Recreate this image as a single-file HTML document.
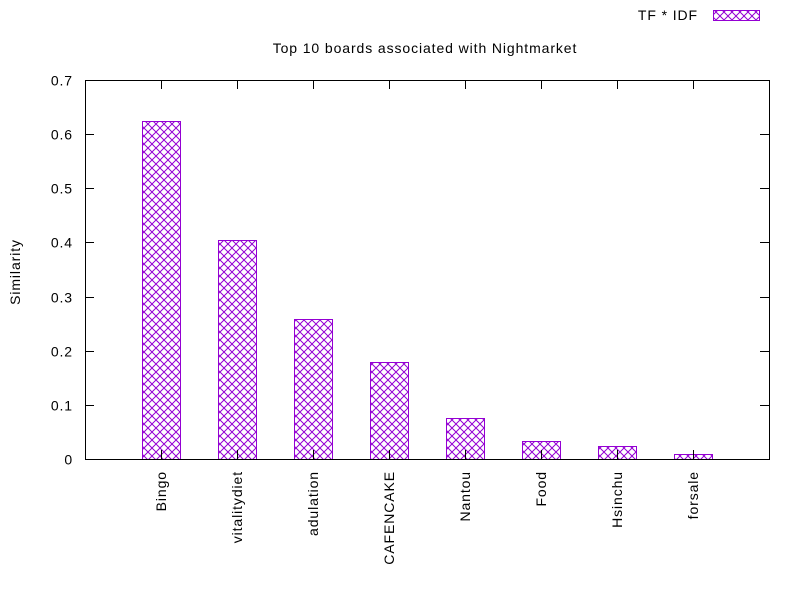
<!DOCTYPE html>
<html><head><meta charset="utf-8"><style>
body{margin:0;background:#fff}
text{font-family:"Liberation Sans",sans-serif;font-size:14px;fill:#000;letter-spacing:0.9px}
</style></head><body>
<svg id="chart" width="800" height="600" xmlns="http://www.w3.org/2000/svg">
<defs>
<pattern id="hatch" width="8" height="8" patternUnits="userSpaceOnUse">
<path d="M0,0L8,8M8,0L0,8" stroke="#9400d3" stroke-width="1"/>
</pattern>
</defs>
<rect x="0" y="0" width="800" height="600" fill="#fff"/>
<text x="425" y="53" text-anchor="middle">Top 10 boards associated with Nightmarket</text>
<text x="698" y="20" text-anchor="end">TF * IDF</text>
<rect x="713.5" y="10.5" width="46" height="10" fill="url(#hatch)" stroke="#9400d3"/>
<text transform="translate(20,272) rotate(-90)" text-anchor="middle">Similarity</text>
<g id="plot"></g>
</svg>
<script>
const categories=["Bingo","vitalitydiet","adulation","CAFENCAKE","Nantou","Food","Hsinchu","forsale"];
const values=[0.624,0.4045,0.2586,0.179,0.0757,0.033,0.024,0.009];
const yTicks=[0,0.1,0.2,0.3,0.4,0.5,0.6,0.7];
const yTickLabels=["0","0.1","0.2","0.3","0.4","0.5","0.6","0.7"];
const L=85,R=769,T=80,B=459,NS="http://www.w3.org/2000/svg";
const y=v=>B-(v/0.7)*(B-T);
const x=i=>L+(i+1)*(R-L)/(categories.length+1);
const g=document.getElementById('plot');
function mk(t,a){const e=document.createElementNS(NS,t);for(const k in a)e.setAttribute(k,a[k]);g.appendChild(e);return e;}
yTicks.forEach((v,i)=>{
 const yy=Math.round(y(v))+0.5;
 const t1=mk('line',{x1:L,x2:L+9,y1:yy,y2:yy,stroke:'#000'});
 
 
 const t2=mk('line',{x1:R-9,x2:R,y1:yy,y2:yy,stroke:'#000'});
 
 
 const tx=mk('text',{x:L-12,y:yy+5,'text-anchor':'end'});tx.textContent=yTickLabels[i];
 
 
});
categories.forEach((c,i)=>{
 const cx=x(i),w=38,top=y(values[i]);
 const r=mk('rect',{x:Math.round(cx-w/2)+0.5,y:Math.round(top)+0.5,width:w,height:Math.round(B-top),fill:'url(#hatch)',stroke:'#9400d3'});
 
 
 const tk=mk('line',{x1:Math.round(cx)+0.5,x2:Math.round(cx)+0.5,y1:B,y2:B-9,stroke:'#000'});
 
 
 const tk2=mk('line',{x1:Math.round(cx)+0.5,x2:Math.round(cx)+0.5,y1:T,y2:T+9,stroke:'#000'});
 
 
 const tx=mk('text',{transform:`translate(${cx+5},${B+12}) rotate(-90)`,'text-anchor':'end'});tx.textContent=c;
 
 
});
const f=mk('rect',{x:L+0.5,y:T+0.5,width:R-L,height:B-T,fill:'none',stroke:'#000'});


</script>
</body></html>
